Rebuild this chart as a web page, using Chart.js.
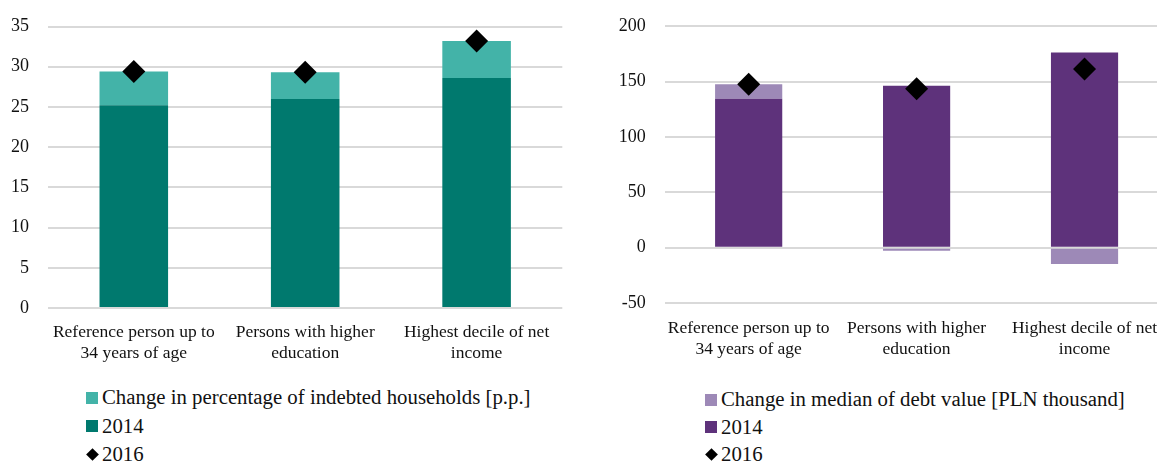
<!DOCTYPE html>
<html>
<head>
<meta charset="utf-8">
<script src="https://cdn.jsdelivr.net/npm/chart.js@4"></script>
<style>
  html, body { margin: 0; padding: 0; background: #fff; }
  body { width: 1157px; height: 461px; overflow: hidden; position: relative; font-family: "Liberation Serif", "Times New Roman", serif; color: #111; }
  canvas { position: absolute; top: 0; }
  #shareCanvas { left: 0; }
  #debtCanvas { left: 580px; }
  .legend { position: absolute; top: 0; font-size: 20.8px; }
  .legend .row { position: absolute; left: 0; white-space: nowrap; height: 24px; line-height: 24px; transform: translateY(-50%); }
  .sw { display: inline-block; width: 12px; height: 12px; vertical-align: middle; margin: -3px 4px 0 0; }
  .dia { display: inline-block; width: 9px; height: 9px; background: #000; transform: rotate(45deg); vertical-align: middle; margin: -3px 5.5px 0 1.5px; }
</style>
</head>
<body>
<canvas id="shareCanvas" width="580" height="370"></canvas>
<canvas id="debtCanvas" width="600" height="370"></canvas>
<div id="shareLegend" class="legend" style="left:86px"></div>
<div id="debtLegend" class="legend" style="left:705px"></div>

<script>
// Household groups shown on both panels
const categories = [
  ['Reference person up to', '34 years of age'],
  ['Persons with higher', 'education'],
  ['Highest decile of net', 'income']
];

// Share of indebted households [%]
const share2014 = [25.2, 26.0, 28.6];
const shareChange = [4.2, 3.3, 4.6];
const share2016 = [29.4, 29.3, 33.2];

// Median value of debt [PLN thousand]
const debt2014 = [134.6, 146.3, 176.3];
const debtChange = [13.0, -2.7, -14.8];
const debt2016 = [147.6, 143.6, 161.5];

// Value axis ranges: [min, max, step]
const shareAxis = [0, 35, 5];
const debtAxis = [-50, 200, 50];

const seriesLabels = {
  shareChange: 'Change in percentage of indebted households [p.p.]',
  debtChange: 'Change in median of debt value [PLN thousand]',
  y2014: '2014',
  y2016: '2016'
};

const FONT = '"Liberation Serif", "Times New Roman", serif';
const TEXT = '#111111';
const GRID = '#d9d9d9';

function buildChart(canvasId, cfg) {
  return new Chart(document.getElementById(canvasId), {
    type: 'bar',
    data: {
      labels: categories,
      datasets: [
        {
          label: cfg.changeLabel, data: cfg.change, backgroundColor: cfg.light,
          borderWidth: 0, stack: 'bars', order: 2,
          categoryPercentage: 0.8, barPercentage: 0.5
        },
        {
          label: seriesLabels.y2014, data: cfg.base, backgroundColor: cfg.dark,
          borderWidth: 0, stack: 'bars', order: 1,
          categoryPercentage: 0.8, barPercentage: 0.5
        },
        {
          type: 'line', label: seriesLabels.y2016, data: cfg.latest,
          showLine: false, stack: 'points', order: 0,
          pointStyle: 'rectRot', pointRadius: 11.5, pointHoverRadius: 11.5,
          pointBackgroundColor: '#000', pointBorderColor: '#000', pointBorderWidth: 0,
          backgroundColor: '#000', borderColor: '#000'
        }
      ]
    },
    options: {
      responsive: false,
      animation: false,
      devicePixelRatio: 1,
      layout: { padding: { left: 0, top: cfg.padTop, right: cfg.padRight, bottom: 0 } },
      plugins: { legend: { display: false }, tooltip: { enabled: false } },
      scales: {
        x: {
          stacked: true,
          grid: { display: false, drawTicks: false },
          border: { display: false },
          ticks: {
            color: TEXT, padding: cfg.xPad, maxRotation: 0, autoSkip: false,
            font: { family: FONT, size: 17.5, lineHeight: 1.2 }
          },
          afterFit(s) { s.height = cfg.xHeight; }
        },
        y: {
          stacked: true,
          min: cfg.axis[0], max: cfg.axis[1],
          // invisible tick marks keep the labels clear of the plot
          grid: { color: GRID, lineWidth: 2, drawTicks: true, tickLength: 19, tickColor: 'rgba(0,0,0,0)' },
          border: { display: false },
          ticks: {
            stepSize: cfg.axis[2], color: TEXT, padding: 0,
            font: { family: FONT, size: 18 }
          },
          afterFit(s) { s.width = cfg.yWidth; }
        }
      }
    }
  });
}

function buildLegend(chart, elId, rowsY) {
  const el = document.getElementById(elId);
  chart.data.datasets.forEach((ds, i) => {
    const row = document.createElement('div');
    row.className = 'row';
    row.style.top = rowsY[i] + 'px';
    const mark = document.createElement('span');
    if (ds.type === 'line') {
      mark.className = 'dia';
    } else {
      mark.className = 'sw';
      mark.style.background = ds.backgroundColor;
    }
    row.appendChild(mark);
    row.appendChild(document.createTextNode(ds.label));
    el.appendChild(row);
  });
}

const shareChart = buildChart('shareCanvas', {
  change: shareChange, base: share2014, latest: share2016,
  changeLabel: seriesLabels.shareChange,
  light: '#43b3a8', dark: '#00796e',
  axis: shareAxis, padTop: 26.5, padRight: 17.7,
  yWidth: 48.1, xHeight: 62, xPad: 14
});

const debtChart = buildChart('debtCanvas', {
  change: debtChange, base: debt2014, latest: debt2016,
  changeLabel: seriesLabels.debtChange,
  light: '#9d89b7', dark: '#5e327b',
  axis: debtAxis, padTop: 26.3, padRight: 11.3,
  yWidth: 84.7, xHeight: 67, xPad: 15
});

buildLegend(shareChart, 'shareLegend', [397, 425.5, 453.5]);
buildLegend(debtChart, 'debtLegend', [399, 426.7, 454]);
</script>
</body>
</html>
